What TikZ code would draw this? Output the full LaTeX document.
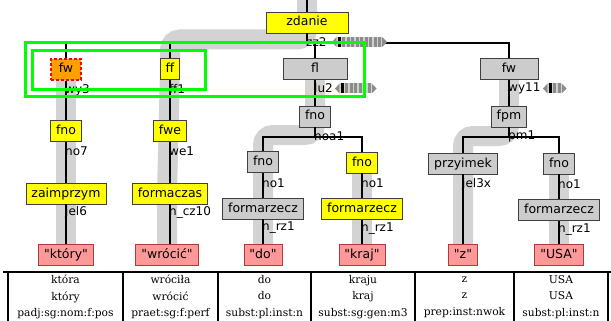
\documentclass[tikz,border=0pt]{standalone}
\usepackage{fontspec}
\setmainfont{DejaVu Sans}
\usetikzlibrary{backgrounds}

% plain font loads, without TeX quote mapping, so " stays straight
\font\catfont="DejaVu Sans" at 12.5pt
\font\rulefont="DejaVu Sans" at 12pt
\newfontfamily\tabfont{DejaVu Serif}

\definecolor{nodeyellow}{HTML}{FFFF00}
\definecolor{nodegrey}{HTML}{CCCCCC}
\definecolor{nodepink}{HTML}{FF9999}
\definecolor{pinkedge}{HTML}{B03A3A}
\definecolor{boxedge}{HTML}{404040}
\definecolor{headband}{HTML}{D3D3D3}
\definecolor{selgreen}{HTML}{00FF00}
\definecolor{fwfill}{HTML}{FFA000}
\definecolor{navlt}{HTML}{D0D0D0}
\definecolor{navdk}{HTML}{8C8C8C}

% navigation strip: left arrow, current (black) bar, n other bars, right arrow
\newcommand\altnav[3]{%
  \fill[navlt] ({#1+5},{#2-5}) rectangle ({#1+9+4.5*#3},{#2+5});
  \fill[navdk] (#1,#2) -- ({#1+4.5},{#2-5}) -- ({#1+4.5},{#2+5}) -- cycle;
  \fill[black] ({#1+5.5},{#2-5}) rectangle ({#1+8.5},{#2+5});
  \foreach \k in {1,...,#3} {\fill[navdk] ({#1+5.5+4.5*\k},{#2-5}) rectangle ({#1+8.5+4.5*\k},{#2+5});}
  \fill[navdk] ({#1+9.5+4.5*#3},{#2-5}) -- ({#1+14.5+4.5*#3},#2) -- ({#1+9.5+4.5*#3},{#2+5}) -- cycle;
}

\tikzset{
  catbox/.style={draw=boxedge, line width=0.9pt, minimum height=21pt, inner xsep=5.5pt, inner ysep=0pt,
    font=\catfont, text height=9.5pt, text depth=2.5pt},
  yelbox/.style={catbox, fill=nodeyellow},
  grybox/.style={catbox, fill=nodegrey},
  wordbox/.style={catbox, fill=nodepink, draw=pinkedge},
  fwbox/.style={catbox, fill=fwfill, draw=red, dash pattern=on 3pt off 2pt, line width=1.2pt},
  conn/.style={line width=1.6pt, black},
  band/.style={line width=20pt, headband, rounded corners=10pt},
  lbl/.style={anchor=west, inner sep=0pt, font=\rulefont},
  selbox/.style={selgreen, line width=3pt},
  tabline/.style={line width=1.2pt, black},
  cell/.style={align=center, font=\tabfont\fontsize{10.7}{16.5}\selectfont, text=black, inner sep=0pt},
}

\begin{document}
\begin{tikzpicture}[x=1pt, y=-1pt]
\useasboundingbox (0,0) rectangle (611,321);

% syntactic categories
\node[yelbox, minimum width=82pt] (zdanie) at (307,22.5) {zdanie};
\node[fwbox, minimum width=30pt] (fwA) at (66,69.5) {fw};
\node[yelbox] (ff) at (170,69) {ff};
\node[grybox, minimum width=64pt] (fl) at (315,69) {fl};
\node[grybox, minimum width=58pt] (fwB) at (509,69) {fw};
\node[yelbox] (fnoA) at (66,131) {fno};
\node[yelbox] (fwe) at (170,131) {fwe};
\node[grybox] (fnoB) at (315,116.5) {fno};
\node[grybox] (fpm) at (509,116.5) {fpm};
\node[grybox] (fnoC) at (263,162) {fno};
\node[yelbox] (fnoD) at (362,162.5) {fno};
\node[grybox] (przy) at (463,163.5) {przyimek};
\node[grybox] (fnoE) at (559,163.5) {fno};
\node[yelbox] (zaim) at (66,193.5) {zaimprzym};
\node[yelbox] (formcz) at (170,193.5) {formaczas};
\node[grybox] (frzA) at (263,208.5) {formarzecz};
\node[yelbox] (frzB) at (362,209) {formarzecz};
\node[grybox] (frzC) at (559,210) {formarzecz};

% terminals
\node[wordbox] (w1) at (66,255) {"który"};
\node[wordbox] (w2) at (167,255) {"wrócić"};
\node[wordbox] (w3) at (263,255) {"do"};
\node[wordbox] (w4) at (362,255) {"kraj"};
\node[wordbox] (w5) at (463,255) {"z"};
\node[wordbox] (w6) at (559,255) {"USA"};

\coordinate (top) at (307,0);

% white page and head chains underneath everything
\begin{scope}[on background layer]
  \fill[white] (0,0) rectangle (611,321);
  \draw[band] (top) -- (307,39.5) -| (ff.center) -- (w2.center |- formcz.center) -- (w2.center);
  \draw[band] (fwA.center) -- (w1.center);
  \draw[band] (fl.center) -- (315,135) -| (w3.center);
  \draw[band] (fwB.center) -- (509,136) -| (w5.center);
  \draw[band] (fnoD.center) -- (w4.center);
  \draw[band] (fnoE.center) -- (w6.center);
\end{scope}

% tree edges
\draw[conn] (top) -- (zdanie.north);
\draw[conn] (zdanie.south) -- (307,43);
\draw[conn] (fwA.north) -- (66,43) -- (509,43) -- (fwB.north);
\draw[conn] (ff.north) -- (170,43);
\draw[conn] (fl.north) -- (315,43);
\draw[conn] (fwA.south) -- (fnoA.north);
\draw[conn] (fnoA.south) -- (zaim.north);
\draw[conn] (zaim.south) -- (w1.north);
\draw[conn] (ff.south) -- (fwe.north);
\draw[conn] (fwe.south) -- (formcz.north);
\draw[conn] (formcz.south) -- (formcz.south |- w2.north);
\draw[conn] (fl.south) -- (fnoB.north);
\draw[conn] (fnoB.south) -- ++(0,9.5) -| (fnoC.north);
\draw[conn] (fnoB.south) -- ++(0,9.5) -| (fnoD.north);
\draw[conn] (fnoC.south) -- (frzA.north);
\draw[conn] (frzA.south) -- (w3.north);
\draw[conn] (fnoD.south) -- (frzB.north);
\draw[conn] (frzB.south) -- (w4.north);
\draw[conn] (fwB.south) -- (fpm.north);
\draw[conn] (fpm.south) -- ++(0,9.5) -| (przy.north);
\draw[conn] (fpm.south) -- ++(0,9.5) -| (fnoE.north);
\draw[conn] (przy.south) -- (w5.north);
\draw[conn] (fnoE.south) -- (frzC.north);
\draw[conn] (frzC.south) -- (w6.north);

% rule labels
\node[lbl] (r-zz2) at (306,42) {zz2};
\node[lbl] (r-wy3) at (65,90) {wy3};
\node[lbl] (r-ff1) at (169,88.5) {ff1};
\node[lbl] (r-lu2) at (314,88.5) {lu2};
\node[lbl] (r-wy11) at (508,88.5) {wy11};
\node[lbl] (r-no7) at (65,151) {no7};
\node[lbl] (r-we1) at (169,151) {we1};
\node[lbl] (r-noa1) at (314,136) {noa1};
\node[lbl] (r-pm1) at (508,136) {pm1};
\node[lbl] (r-no1a) at (262,183) {no1};
\node[lbl] (r-no1b) at (361,183) {no1};
\node[lbl] (r-jel3x) at (462,184) {jel3x};
\node[lbl] (r-no1c) at (558,184) {no1};
\node[lbl] (r-jel6) at (65,212) {jel6};
\node[lbl] (r-ncz10) at (169,212) {n\_cz10};
\node[lbl] (r-nrz1a) at (262,228) {n\_rz1};
\node[lbl] (r-nrz1b) at (361,229) {n\_rz1};
\node[lbl] (r-nrz1c) at (558,229.5) {n\_rz1};

% alternative-derivation strips
\altnav{332}{42}{9}
\altnav{335}{88.5}{6}
\altnav{543}{88.5}{2}

% selection frames
\draw[selbox] (25,43) rectangle (364,97);
\draw[selbox] (32,51) rectangle (205,90);

% token table
\draw[tabline] (3,272) -- (611,272);
\foreach \x in {8,123,218,311,415,514,608} \draw[tabline] (\x,272) -- (\x,321);
\node[cell] (t1) at (65.5,297) {która\\który\\padj:sg:nom:f:pos};
\node[cell] (t2) at (170.5,297) {wróciła\\wrócić\\praet:sg:f:perf};
\node[cell] (t3) at (264.5,297) {do\\do\\subst:pl:inst:n};
\node[cell] (t4) at (363,297) {kraju\\kraj\\subst:sg:gen:m3};
\node[cell] (t5) at (464.5,297) {z\\z\\prep:inst:nwok};
\node[cell] (t6) at (561,297) {USA\\USA\\subst:pl:inst:n};
\end{tikzpicture}
\end{document}
